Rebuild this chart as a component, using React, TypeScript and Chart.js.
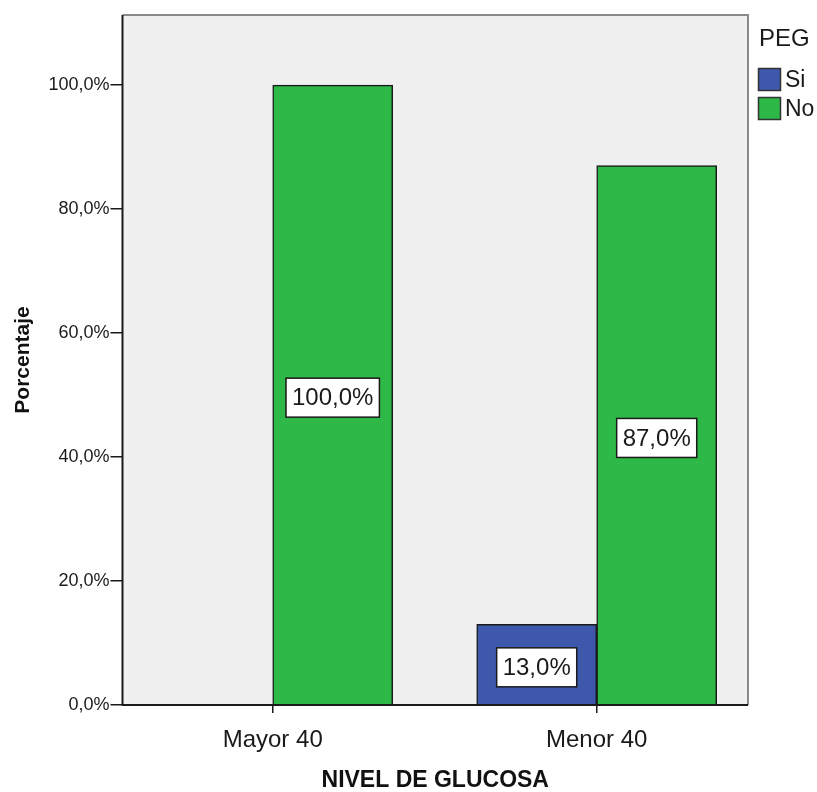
import React, { useEffect, useRef } from "react";
import { Chart, registerables } from "chart.js";

Chart.register(...registerables);

const categories = ["Mayor 40", "Menor 40"];
const seriesNames = ["Si", "No"];
const siValues: (number | null)[] = [null, 13.0];
const noValues: (number | null)[] = [100.0, 87.0];
const yTicks = [0, 20, 40, 60, 80, 100];
const legendTitle = "PEG";
const xTitle = "NIVEL DE GLUCOSA";
const yTitle = "Porcentaje";
const colors = ["#3E58AC", "#2EB848"];

const FONT = "'Liberation Sans', Arial, sans-serif";
const fmt = (v: number) => v.toFixed(1).replace(".", ",") + "%";

const decorPlugin = {
  id: "decor",
  beforeDraw(chart: any) {
    const { ctx, chartArea: a } = chart;
    ctx.save();
    ctx.fillStyle = "#f0f0f0";
    ctx.fillRect(a.left, a.top, a.right - a.left, a.bottom - a.top);
    ctx.restore();
  },
  afterDatasetsDraw(chart: any) {
    const { ctx, chartArea: a } = chart;
    ctx.save();
    // frame
    ctx.lineWidth = 2;
    ctx.strokeStyle = "#8a8a8a";
    ctx.beginPath();
    ctx.moveTo(a.left, a.top);
    ctx.lineTo(a.right, a.top);
    ctx.lineTo(a.right, a.bottom);
    ctx.stroke();
    ctx.strokeStyle = "#1a1a1a";
    ctx.beginPath();
    ctx.moveTo(a.left, a.top);
    ctx.lineTo(a.left, a.bottom);
    ctx.lineTo(a.right, a.bottom);
    ctx.stroke();

    // data labels
    ctx.font = `24px ${FONT}`;
    ctx.textAlign = "center";
    ctx.textBaseline = "middle";
    chart.data.datasets.forEach((ds: any, di: number) => {
      const meta = chart.getDatasetMeta(di);
      meta.data.forEach((bar: any, i: number) => {
        const raw = ds.data[i];
        if (raw == null || raw.y == null) return;
        const text = fmt(raw.y);
        const cx = bar.x;
        const cy = (bar.y + bar.base) / 2 + 3;
        const tw = ctx.measureText(text).width;
        const w = tw + 12;
        const h = 39;
        ctx.fillStyle = "#ffffff";
        ctx.fillRect(cx - w / 2, cy - h / 2, w, h);
        ctx.lineWidth = 1.5;
        ctx.strokeStyle = "#1a1a1a";
        ctx.strokeRect(cx - w / 2, cy - h / 2, w, h);
        ctx.fillStyle = "#1a1a1a";
        ctx.fillText(text, cx, cy + 1);
      });
    });

    // legend
    ctx.textAlign = "left";
    ctx.textBaseline = "middle";
    ctx.fillStyle = "#1a1a1a";
    ctx.font = `24px ${FONT}`;
    ctx.fillText(legendTitle, 759, 39);
    seriesNames.forEach((name, i) => {
      const y = 68.5 + i * 29;
      ctx.fillStyle = colors[i];
      ctx.fillRect(758.5, y, 22, 22);
      ctx.lineWidth = 1.5;
      ctx.strokeStyle = "#333";
      ctx.strokeRect(758.5, y, 22, 22);
      ctx.fillStyle = "#1a1a1a";
      ctx.font = `23px ${FONT}`;
      ctx.fillText(name, 785, y + 12);
    });

    // axis titles
    ctx.fillStyle = "#111";
    ctx.font = `bold 23px ${FONT}`;
    ctx.textAlign = "center";
    ctx.fillText(xTitle, (a.left + a.right) / 2, 781);
    ctx.save();
    ctx.translate(23, (a.top + a.bottom) / 2);
    ctx.rotate(-Math.PI / 2);
    ctx.font = `bold 21px ${FONT}`;
    ctx.fillText(yTitle, 0, 0);
    ctx.restore();
    ctx.restore();
  },
};

export default function App() {
  const ref = useRef<HTMLCanvasElement>(null);
  useEffect(() => {
    if (!ref.current) return;
    const chart = new Chart(ref.current, {
      type: "bar",
      data: {
        datasets: [
          {
            label: seriesNames[0],
            data: siValues.map((v, i) => ({ x: i, y: v })) as any,
            backgroundColor: colors[0],
            borderColor: "#1a1a1a",
            borderWidth: 1.5,
            barThickness: 120,
          },
          {
            label: seriesNames[1],
            data: noValues.map((v, i) => ({ x: i, y: v })) as any,
            backgroundColor: colors[1],
            borderColor: "#1a1a1a",
            borderWidth: 1.5,
            barThickness: 120,
          },
        ],
      },
      options: {
        animation: false,
        responsive: true,
        maintainAspectRatio: false,
        layout: { padding: { left: 0, top: 15, right: 69, bottom: 0 } },
        plugins: {
          legend: { display: false },
          tooltip: { enabled: false },
        },
        scales: {
          x: {
            type: "linear",
            min: -0.4636,
            max: 1.467,
            offset: false,
            grid: {
              offset: false,
              drawOnChartArea: false,
              drawTicks: true,
              tickLength: 8,
              color: "#1a1a1a",
              lineWidth: 1.5,
            },
            border: { display: false },
            afterBuildTicks: (scale: any) => {
              scale.ticks = categories.map((_, i) => ({ value: i }));
            },
            afterFit: (scale: any) => {
              scale.height = 87;
            },
            ticks: {
              padding: 13,
              color: "#1a1a1a",
              font: { family: FONT, size: 24 },
              autoSkip: false,
              maxRotation: 0,
              callback: (v: any) => categories[Math.round(Number(v))] ?? "",
            },
          },
          y: {
            min: 0,
            max: 111.3,
            grid: {
              drawOnChartArea: false,
              drawTicks: true,
              tickLength: 12,
              color: "#1a1a1a",
              lineWidth: 1.5,
            },
            border: { display: false },
            afterBuildTicks: (scale: any) => {
              scale.ticks = yTicks.map((v) => ({ value: v }));
            },
            afterFit: (scale: any) => {
              scale.width = 122.5;
            },
            ticks: {
              padding: 1,
              color: "#1a1a1a",
              font: { family: FONT, size: 18 },
              callback: (v: any) => fmt(Number(v)),
            },
          },
        },
      },
      plugins: [decorPlugin],
    });
    return () => chart.destroy();
  }, []);
  return (
    <div style={{ position: "fixed", left: 0, top: 0, width: 817, height: 792, background: "#fff" }}>
      <canvas ref={ref} />
    </div>
  );
}
